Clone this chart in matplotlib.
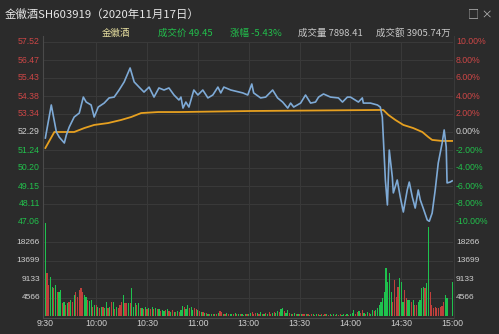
import matplotlib
matplotlib.use('Agg')
import matplotlib.pyplot as plt
import matplotlib.transforms as mtrans
import numpy as np

plt.rcParams['font.family'] = ['Noto Sans CJK SC', 'DejaVu Sans']

# ---------------- data ----------------
prev_close = 52.29
price_times = [0, 3.5, 6.5, 8.2, 11.2, 12.4, 14.1, 17, 20, 22.4, 24.1, 27, 28.8, 31.2, 34.7,
               37.6, 40.6, 43.5, 46.5, 50, 52.4, 55.3, 58.2, 61.2, 64.1, 67, 70, 72.9, 75.9,
               78.8, 80, 81.2, 82.9, 84.7, 87.6, 90, 92.9, 95.9, 98.8, 101.8, 103.5, 105.3,
               109.4, 116.5, 119.4, 121.8, 122.9, 127, 130, 134.1, 137, 140, 143, 144.7,
               146.5, 150.6, 153.5, 156.5, 159.4, 161.2, 164.1, 168.2, 172.9, 175.3, 178.2,
               180, 184.7, 187, 187.6, 191.8, 195.9, 197.6, 198.8, 200.6, 201.8, 202.9,
               204.7, 205.3, 207.6, 209.4, 211.2, 213.5, 214.7, 216.5, 218.2, 220, 221.2,
               222.9, 225.3, 226.5, 228.2, 230, 231.8, 234.1, 235.3, 236.5, 237, 238.8, 240]
price_values = [51.94, 53.86, 52.29, 51.99, 51.65, 52.12, 52.58, 53.16, 53.39, 54.32, 54.03,
                53.86, 53.16, 53.74, 53.97, 54.27, 54.32, 54.73, 55.20, 56.01, 55.20, 54.90,
                54.61, 54.90, 54.32, 54.85, 54.73, 54.85, 54.44, 54.15, 54.32, 53.68, 54.03,
                53.74, 54.73, 54.44, 54.73, 54.27, 54.44, 54.90, 54.56, 54.90, 54.73, 54.56,
                54.44, 55.08, 54.56, 54.27, 54.32, 54.73, 54.27, 54.03, 53.68, 53.97, 53.74,
                53.97, 54.44, 53.97, 54.03, 54.32, 54.50, 54.32, 54.27, 54.03, 54.32, 54.32,
                54.03, 54.27, 53.97, 53.97, 53.86, 53.74, 53.16, 49.50, 48.05, 51.24, 49.67,
                48.75, 49.50, 48.51, 47.64, 48.92, 49.38, 48.51, 47.87, 48.92, 48.34, 47.87,
                47.18, 47.10, 47.58, 48.92, 50.49, 51.65, 52.41, 51.42, 49.33, 49.38, 49.45]

avg_times = [0, 5.3, 10.6, 17, 23, 28.8, 37, 44.7, 50.6, 56.5, 66.5, 78.8, 121, 197.6,
             199.4, 202.4, 206.5, 211.2, 217, 222.4, 225.9, 228.2, 234.1, 240]
avg_values = [51.36, 52.29, 52.29, 52.29, 52.52, 52.70, 52.81, 52.99, 53.16, 53.39, 53.45,
              53.45, 53.51, 53.57, 53.57, 53.28, 52.99, 52.70, 52.52, 52.29, 52.00, 51.83,
              51.77, 51.77]

volumes = [
    23000, 10600, 7600, 9600, 7200, 6900, 7600, 6000, 6000, 6400,
    3200, 3500, 2700, 3200, 3500, 4000, 3500, 5200, 6000, 4700,
    6400, 6900, 6000, 5200, 4700, 4000, 3700, 4000, 2200, 2700,
    2700, 2200, 2000, 2200, 2200, 2000, 3500, 2000, 2200, 3500,
    3500, 1700, 2200, 2000, 2700, 3500, 5200, 3200, 3200, 3200,
    3200, 6900, 2200, 3200, 2700, 3200, 2000, 2000, 1700, 2200,
    1700, 2000, 1700, 2200, 1700, 2000, 1700, 1700, 1300, 1500,
    1200, 1500, 1700, 1200, 1000, 1400, 1000, 900, 1200, 1000,
    1500, 2500, 2200, 1700, 2700, 2000, 2200, 1500, 2000, 1700,
    1500, 1200, 900, 1000, 800, 700, 600, 500, 600, 500,
    400, 500, 800, 1200, 900, 600, 500, 700, 500, 600,
    400, 500, 800, 600, 400, 500, 400, 300, 500, 400,
    600, 700, 900, 600, 800, 700, 600, 900, 500, 600,
    700, 500, 900, 600, 800, 1000, 700, 1200, 900, 1700,
    2000, 1200, 800, 1500, 700, 600, 500, 700, 600, 500,
    600, 500, 400, 500, 400, 600, 300, 400, 500, 300,
    400, 500, 300, 400, 300, 400, 500, 300, 400, 300,
    500, 300, 400, 300, 400, 300, 500, 300, 400, 300,
    400, 700, 1500, 600, 900, 1200, 700, 1500, 800, 600,
    900, 800, 600, 1500, 1200, 1500, 2000, 2700, 3500, 4400,
    6000, 11800, 8400, 10600, 6000, 3500, 8900, 4700, 7200, 9400,
    8400, 3500, 6400, 4400, 4000, 4000, 3500, 4000, 2700, 2700,
    3500, 4000, 6900, 7200, 6900, 8100, 22000, 6000, 2700, 2000,
    2200, 2000, 2000, 2200, 2500, 3500, 5200, 4400, 0, 0,
    8400]
vol_colors = ("grrggrgrgg" "rgrgrgrgrr" "rrrggrggrg" "rgrgrggrgr" "grgrrrgrrg"
              "rgggrgrgrg" "rgrgrgrgrg" "grgrgrgrgr" "ggrggrggrr" "grgrgrgrgr"
              "grgrrgrgrg" "grgrgrgrgr" "ggrrrgrgrg" "rgrrgrggrg" "grggrgrgrg"
              "rgrrgrgrgr" "grgrgrgrgr" "grgrrggrgr" "gggrrgrrgr" "grggrggggg"
              "gggggrrrrg" "ggrrggrgrr" "ggggrggrrr" "rrrrrrgggg" "g")

price_ticks = [57.52, 56.47, 55.43, 54.38, 53.34, 52.29, 51.24, 50.20, 49.15, 48.11, 47.06]
pct_labels = ["10.00%", "8.00%", "6.00%", "4.00%", "2.00%", "0.00%",
              "-2.00%", "-4.00%", "-6.00%", "-8.00%", "-10.00%"]
vol_ticks = [4566, 9133, 13699, 18266]
time_pos = [0, 30, 60, 90, 120, 150, 180, 210, 240]
time_labels = ["9:30", "10:00", "10:30", "11:00", "13:00", "13:30", "14:00", "14:30", "15:00"]

# ---------------- figure ----------------
W, H = 499, 334
BG = '#2b2b2b'
RED = '#cc4646'
GREEN = '#22c04c'
BAR_RED = '#c0403c'
BAR_GREEN = '#1fc24e'
WHITE = '#cfcfcf'
GRID = '#3a3a3a'

fig = plt.figure(figsize=(W / 100, H / 100), dpi=100)
fig.patch.set_facecolor(BG)

def fx(x):
    return x / W

def fy(y):
    return 1 - y / H

L, R = 44, 453
ax = fig.add_axes([fx(L), fy(222), fx(R) - fx(L), fy(42) - fy(222)])
axv = fig.add_axes([fx(L), fy(316), fx(R) - fx(L), fy(222) - fy(316)], sharex=ax)

for a in (ax, axv):
    a.set_facecolor(BG)
    for s in a.spines.values():
        s.set_visible(False)
    a.tick_params(left=False, bottom=False, labelleft=False, labelbottom=False)
    for t in time_pos[1:-1]:
        a.axvline(t, color=GRID, lw=0.7, zorder=0)

ax.set_xlim(-0.8, 240.5)
ax.set_ylim(47.06, 57.52)
for p in price_ticks:
    ax.axhline(p, color=GRID, lw=0.7, zorder=0)

ax.plot(avg_times, avg_values, color='#e6a020', lw=1.3, zorder=3)
ax.plot(price_times, price_values, color='#7eaad6', lw=1.2, zorder=4)

# volume
axv.set_ylim(0, 23218)
for v in vol_ticks:
    axv.axhline(v, color=GRID, lw=0.7, zorder=0)
t_idx = np.arange(len(volumes))
cols = [BAR_RED if c == 'r' else BAR_GREEN for c in vol_colors[:len(volumes)]]
axv.bar(t_idx, volumes, width=0.7, color=cols, linewidth=0, antialiased=False, zorder=2)

# frame lines
fig.add_artist(plt.Line2D([fx(L - 1), fx(L - 1)], [fy(36), fy(318)], color='#4a4a4a', lw=0.8))
fig.add_artist(plt.Line2D([fx(L - 1), fx(R + 1)], [fy(317.5), fy(317.5)], color='#4a4a4a', lw=0.8))
fig.add_artist(plt.Line2D([fx(R + 1), fx(R + 1)], [fy(36), fy(318)], color='#3a3a3a', lw=0.7))

# price labels (left) and percent labels (right)
trp = mtrans.blended_transform_factory(ax.transAxes, ax.transData)
for p, lab in zip(price_ticks, pct_labels):
    if p > prev_close + 0.01:
        c = RED
    elif p < prev_close - 0.01:
        c = GREEN
    else:
        c = WHITE
    ax.text(-4 / (R - L), p, f"{p:.2f}", transform=trp, ha='right', va='center',
            color=c, fontsize=6.3, family='Liberation Sans')
    ax.text(1 + 3 / (R - L), p, lab, transform=trp, ha='left', va='center',
            color=c, fontsize=6.3, family='Liberation Sans')

trv = mtrans.blended_transform_factory(axv.transAxes, axv.transData)
for v in vol_ticks:
    axv.text(-4 / (R - L), v, f"{v}", transform=trv, ha='right', va='center',
             color=WHITE, fontsize=6.0, family='Liberation Sans')
    axv.text(1 + 3 / (R - L), v, f"{v}", transform=trv, ha='left', va='center',
             color=WHITE, fontsize=6.0, family='Liberation Sans')

# time labels
trt = mtrans.blended_transform_factory(axv.transData, fig.transFigure)
for t, lab in zip(time_pos, time_labels):
    axv.text(t, fy(324), lab, transform=trt, ha='center', va='center',
             color=WHITE, fontsize=6.3, family='Liberation Sans')

# header
fig.text(fx(5), fy(14), "金徽酒SH603919（2020年11月17日）", color='#e6e6e6',
         fontsize=8.2, ha='left', va='center')
fig.text(fx(468), fy(14), "□ ×", color='#b4b4b4', fontsize=8, ha='left', va='center')
fig.text(fx(102), fy(33), "金徽酒", color='#e8e0a0', fontsize=6.8, ha='left', va='center')
fig.text(fx(158), fy(33), "成交价 49.45", color=GREEN, fontsize=6.8, ha='left', va='center')
fig.text(fx(230), fy(33), "涨幅 -5.43%", color=GREEN, fontsize=6.8, ha='left', va='center')
fig.text(fx(298), fy(33), "成交量 7898.41", color='#c8c8c8', fontsize=6.8, ha='left', va='center')
fig.text(fx(376), fy(33), "成交额 3905.74万", color='#c8c8c8', fontsize=6.8, ha='left', va='center')

fig.savefig('out.png', dpi=100, facecolor=fig.get_facecolor())
